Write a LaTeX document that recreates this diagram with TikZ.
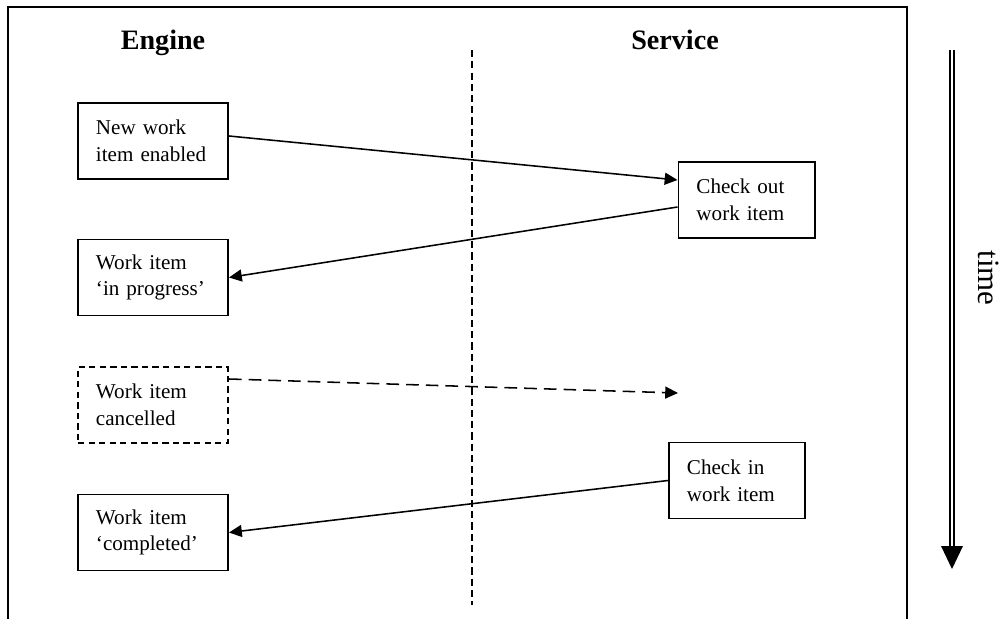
\documentclass[tikz,border=0pt]{standalone}
\usepackage{fontspec}
\setmainfont{Liberation Serif}
\usetikzlibrary{calc, arrows.meta}

\tikzset{
    step box/.style={draw, line width=1.4pt, align=left, font=\fontsize{15}{19}\selectfont,
        inner xsep=0.45cm, inner ysep=0pt, minimum height=1.9cm, text width=2.85cm},
    msg/.style={line width=1.1pt, -{Triangle[length=0.32cm, width=0.3cm]}},
    lane title/.style={anchor=base, font=\fontsize{20}{24}\selectfont\bfseries}
}

\begin{document}
\begin{tikzpicture}[x=0.025cm, y=-0.025cm]
    \useasboundingbox (0,0) rectangle (1002,619);

    % frame, open at the bottom
    \draw[line width=1.4pt] (8,619) -- (8,7) -- (907,7) -- (907,619);
    \draw[line width=0.9pt, dash pattern=on 5pt off 3pt] (472,50) -- (472,605);

    \node[lane title] (engine) at (163,49.5) {Engine};
    \node[lane title] (service) at (675,49.5) {Service};

    % engine side
    \node[step box] (enabled) at (153,141) {New work\\item enabled};
    \node[step box] (progress) at (153,277.5) {Work item\\`in progress'};
    \node[step box, dash pattern=on 4.5pt off 3pt] (cancelled) at (153,405) {Work item\\cancelled};
    \node[step box] (completed) at (153,532.5) {Work item\\`completed'};

    % service side
    \node[step box, text width=2.5cm] (checkout) at (746.5,200) {Check out\\work item};
    \node[step box, text width=2.5cm] (checkin) at (737,480.5) {Check in\\work item};
    \coordinate (lost) at (678,393);

    \draw[msg] ($(enabled.east)+(0,-5)$) -- ($(checkout.west)+(0,-20)$);
    \draw[msg] ($(checkout.west)+(0,7)$) -- (progress.east);
    \draw[msg, dash pattern=on 9pt off 5pt] ($(cancelled.east)+(0,-26)$) -- (lost);
    \draw[msg] (checkin.west) -- (completed.east);

    % time axis
    \coordinate (t0) at (952,50);
    \coordinate (t1) at (952,546);
    \draw[line width=0.8pt] ($(t0)+(-2,0)$) -- ($(t1)+(-2,0)$);
    \draw[line width=0.8pt] ($(t0)+(2,0)$) -- ($(t1)+(2,0)$);
    \fill ($(t1)+(-11,0)$) -- ($(t1)+(11,0)$) -- ($(t1)+(0,23)$) -- cycle;
    \node[rotate=-90, anchor=base, inner sep=0pt, font=\fontsize{22}{26}\selectfont] (time) at (978,278) {time};
\end{tikzpicture}
\end{document}
